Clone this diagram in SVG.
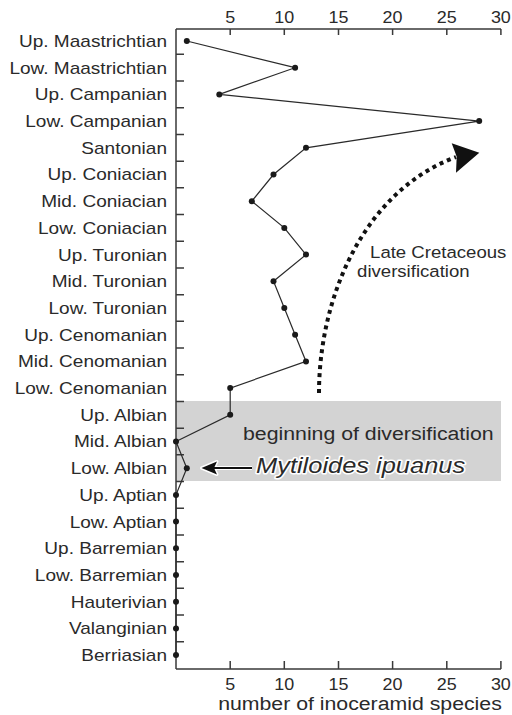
<svg xmlns="http://www.w3.org/2000/svg" width="512" height="715" viewBox="0 0 512 715">
<style>
text{font-family:"Liberation Sans",Arial,sans-serif;fill:#2a2a2a}
.lbl{font-size:17px;text-anchor:end}
.num{font-size:16px;text-anchor:middle}
.axis{stroke:#3a3a3a;stroke-width:1.5;fill:none}
.data{stroke:#2a2a2a;stroke-width:1.2;fill:none}
.dot{fill:#1a1a1a}
.halo{stroke:#fff;stroke-width:3;paint-order:stroke;stroke-linejoin:round}
</style>
<rect width="512" height="715" fill="#fff"/>
<g id="shade"><rect x="176" y="401" width="325" height="80" fill="#d3d3d3"/></g>
<g id="axes">
<path class="axis" d="M176,29V669M176,29H501M176,669H501"/>
<path class="axis" d="M230.2,29v6M284.3,29v6M338.5,29v6M392.6,29v6M446.8,29v6M500.9,29v6M230.2,669v-8M284.3,669v-8M338.5,669v-8M392.6,669v-8M446.8,669v-8M500.9,669v-8"/>
<path class="axis" d="M176,54.35h8M176,81.05h8M176,107.75h8M176,134.45h8M176,161.15h8M176,187.85h8M176,214.55h8M176,241.25h8M176,267.95h8M176,294.65h8M176,321.35h8M176,348.05h8M176,374.75h8M176,401.45h8M176,428.15h8M176,454.85h8M176,481.55h8M176,508.25h8M176,534.95h8M176,561.65h8M176,588.35h8M176,615.05h8M176,641.75h8"/>
</g>
<g id="axis-labels" transform="scale(1.12,1)">
<text class="num" x="205.5" y="23">5</text><text class="num" x="253.8" y="23">10</text><text class="num" x="302.2" y="23">15</text><text class="num" x="350.5" y="23">20</text><text class="num" x="398.9" y="23">25</text><text class="num" x="447.2" y="23">30</text>
<text class="num" x="205.5" y="690">5</text><text class="num" x="253.8" y="690">10</text><text class="num" x="302.2" y="690">15</text><text class="num" x="350.5" y="690">20</text><text class="num" x="398.9" y="690">25</text><text class="num" x="447.2" y="690">30</text>
<text x="321.4" y="710" style="font-size:19px;text-anchor:middle">number of inoceramid species</text>
</g>
<g id="stage-labels" transform="scale(1.12,1)">
<text class="lbl" x="149.1" y="47">Up. Maastrichtian</text>
<text class="lbl" x="149.1" y="73.7">Low. Maastrichtian</text>
<text class="lbl" x="149.1" y="100.4">Up. Campanian</text>
<text class="lbl" x="149.1" y="127.1">Low. Campanian</text>
<text class="lbl" x="149.1" y="153.8">Santonian</text>
<text class="lbl" x="149.1" y="180.5">Up. Coniacian</text>
<text class="lbl" x="149.1" y="207.2">Mid. Coniacian</text>
<text class="lbl" x="149.1" y="233.9">Low. Coniacian</text>
<text class="lbl" x="149.1" y="260.6">Up. Turonian</text>
<text class="lbl" x="149.1" y="287.3">Mid. Turonian</text>
<text class="lbl" x="149.1" y="314">Low. Turonian</text>
<text class="lbl" x="149.1" y="340.7">Up. Cenomanian</text>
<text class="lbl" x="149.1" y="367.4">Mid. Cenomanian</text>
<text class="lbl" x="149.1" y="394.1">Low. Cenomanian</text>
<text class="lbl" x="149.1" y="420.8">Up. Albian</text>
<text class="lbl" x="149.1" y="447.5">Mid. Albian</text>
<text class="lbl" x="149.1" y="474.2">Low. Albian</text>
<text class="lbl" x="149.1" y="500.9">Up. Aptian</text>
<text class="lbl" x="149.1" y="527.6">Low. Aptian</text>
<text class="lbl" x="149.1" y="554.3">Up. Barremian</text>
<text class="lbl" x="149.1" y="581">Low. Barremian</text>
<text class="lbl" x="149.1" y="607.7">Hauterivian</text>
<text class="lbl" x="149.1" y="634.4">Valanginian</text>
<text class="lbl" x="149.1" y="661.1">Berriasian</text>
</g>
<g id="connectors">
<polyline class="data" points="186.8,41 295.1,67.7 219.3,94.4 479.2,121.1 306,147.8 273.5,174.5 251.8,201.2 284.3,227.9 306,254.6 273.5,281.3 284.3,308 295.1,334.7 306,361.4 230.2,388.1 230.2,414.8 176,441.5 186.8,468.2 176,494.9 176,655.1"/>
<path d="M319,393C319,300 362,192 456,157" fill="none" stroke="#111" stroke-width="4" stroke-dasharray="4 4"/>
<polygon points="479.3,152.7 451.7,143.3 456.7,156.7 456,172.7" fill="#111"/>
<g id="mytiloides-arrow">
<path d="M252,468H212" stroke="#fff" stroke-width="4"/>
<polygon points="201.5,468 217,461.5 214,468 217,474.5" fill="#fff" stroke="#fff" stroke-width="3" stroke-linejoin="round"/>
<path d="M252,468H212" stroke="#111" stroke-width="1.8"/>
<polygon points="201.5,468 217,461.5 214,468 217,474.5" fill="#111"/>
</g>
</g>
<g id="points">
<circle class="dot" cx="186.8" cy="41" r="3"/><circle class="dot" cx="295.1" cy="67.7" r="3"/><circle class="dot" cx="219.3" cy="94.4" r="3"/><circle class="dot" cx="479.2" cy="121.1" r="3"/><circle class="dot" cx="306" cy="147.8" r="3"/><circle class="dot" cx="273.5" cy="174.5" r="3"/><circle class="dot" cx="251.8" cy="201.2" r="3"/><circle class="dot" cx="284.3" cy="227.9" r="3"/><circle class="dot" cx="306" cy="254.6" r="3"/><circle class="dot" cx="273.5" cy="281.3" r="3"/><circle class="dot" cx="284.3" cy="308" r="3"/><circle class="dot" cx="295.1" cy="334.7" r="3"/><circle class="dot" cx="306" cy="361.4" r="3"/><circle class="dot" cx="230.2" cy="388.1" r="3"/><circle class="dot" cx="230.2" cy="414.8" r="3"/><circle class="dot" cx="176" cy="441.5" r="3"/><circle class="dot" cx="186.8" cy="468.2" r="3"/><circle class="dot" cx="176" cy="494.9" r="3"/><circle class="dot" cx="176" cy="521.6" r="3"/><circle class="dot" cx="176" cy="548.3" r="3"/><circle class="dot" cx="176" cy="575" r="3"/><circle class="dot" cx="176" cy="601.7" r="3"/><circle class="dot" cx="176" cy="628.4" r="3"/><circle class="dot" cx="176" cy="655.1" r="3"/>
</g>
<g id="annotations" transform="scale(1.12,1)">
<text x="217" y="440" style="font-size:19px">beginning of diversification</text>
<text class="halo" x="228.6" y="473" style="font-size:22.7px;font-style:italic">Mytiloides ipuanus</text>
<text x="330.4" y="258" style="font-size:16.6px">Late Cretaceous</text>
<text x="318.8" y="277.5" style="font-size:16.6px">diversification</text>
</g>
</svg>
